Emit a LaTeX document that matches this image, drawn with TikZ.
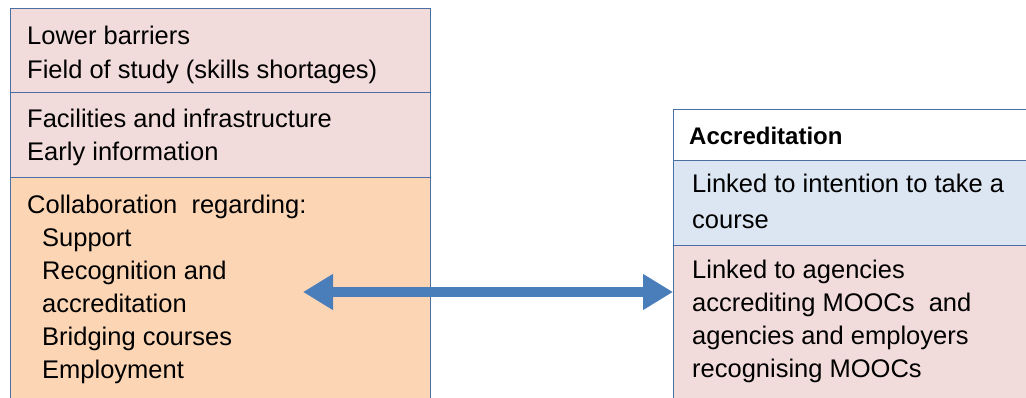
\documentclass[tikz,border=0pt]{standalone}
\usepackage{fontspec}
\setmainfont{Liberation Sans}
\usetikzlibrary{arrows.meta}
\definecolor{boxline}{RGB}{74,111,165}
\definecolor{pinkfill}{RGB}{242,220,219}
\definecolor{peachfill}{RGB}{252,213,181}
\definecolor{bluefill}{RGB}{220,230,242}
\definecolor{arrowblue}{RGB}{74,126,187}
\begin{document}
\begin{tikzpicture}[x=1pt,y=-1pt,
  panel/.style={draw=boxline,line width=1.4pt,rectangle,inner sep=0pt,anchor=north west},
  label/.style={anchor=north west,inner sep=0pt,align=left,font=\fontsize{25.5}{33}\selectfont},
  link/.style={draw=arrowblue,line width=10pt,{Triangle[length=30pt,width=34pt]}-{Triangle[length=30pt,width=34pt]}}]
\useasboundingbox (0,0) rectangle (1026,397);
\clip (0,0) rectangle (1026,397);
% left column
\node[panel,fill=pinkfill,minimum width=420pt,minimum height=84pt] (barriers) at (10,8) {};
\node[panel,fill=pinkfill,minimum width=420pt,minimum height=85pt] (facilities) at (10,92) {};
\node[panel,fill=peachfill,minimum width=420pt,minimum height=240pt] (collab) at (10,177) {};
% right column
\node[panel,fill=white,minimum width=380pt,minimum height=51pt] (accr) at (673,109) {};
\node[panel,fill=bluefill,minimum width=380pt,minimum height=85pt] (intent) at (673,160) {};
\node[panel,fill=pinkfill,minimum width=380pt,minimum height=170pt] (agencies) at (673,245) {};
% texts
\node[label,font=\fontsize{25.5}{34}\selectfont] (tbarriers) at (27,25.4)
  {Lower barriers\\Field of study (skills shortages)};
\node[label] (tfacilities) at (27,108.4)
  {Facilities and infrastructure\\Early information};
\node[label] (tcollab) at (27,194.4)
  {Collaboration~ regarding:\\
   \hspace*{15pt}Support\\
   \hspace*{15pt}Recognition and\\
   \hspace*{15pt}accreditation\\
   \hspace*{15pt}Bridging courses\\
   \hspace*{15pt}Employment};
\node[label,font=\fontsize{24}{30}\selectfont\bfseries] (taccr) at (689,127)
  {Accreditation};
\node[label,font=\fontsize{25.5}{36}\selectfont] (tintent) at (692,173.4)
  {Linked to intention to take a\\course};
\node[label] (tagencies) at (692,259.4)
  {Linked to agencies\\accrediting MOOCs~ and\\agencies and employers\\recognising MOOCs};
% two-way link
\coordinate (leftend) at (303,292);
\draw[link] (leftend) -- (agencies.west |- leftend);
\end{tikzpicture}
\end{document}
